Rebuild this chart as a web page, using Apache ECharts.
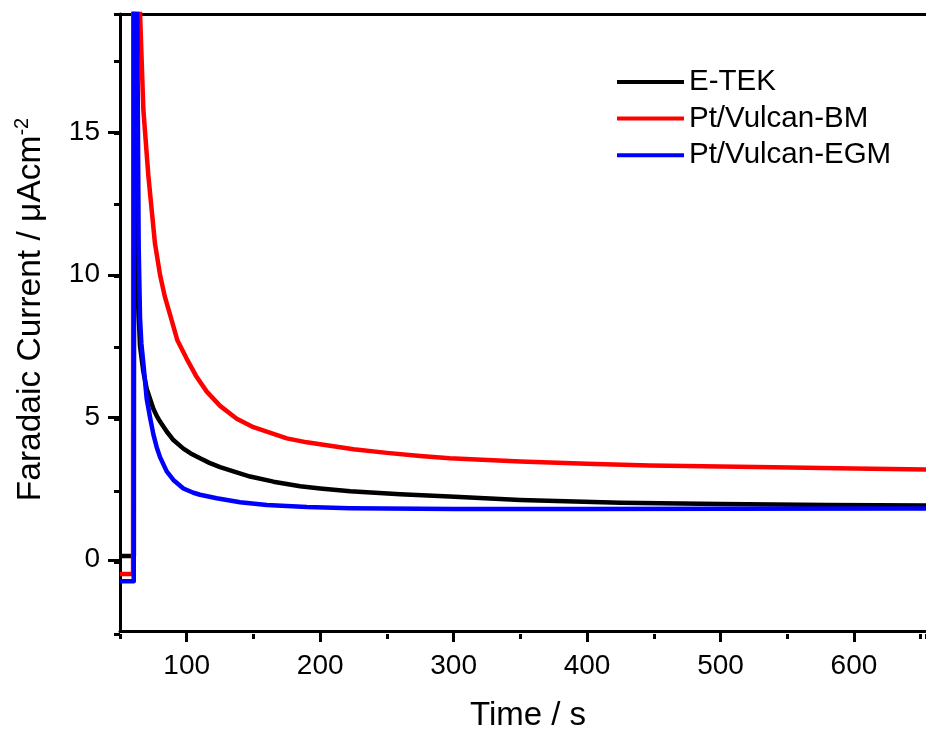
<!DOCTYPE html>
<html>
<head>
<meta charset="utf-8">
<script src="https://cdn.jsdelivr.net/npm/echarts@6/dist/echarts.min.js"></script>
<style>
html,body{margin:0;padding:0;background:#fff;}
#chart{width:926px;height:737px;}
</style>
</head>
<body>
<div id="chart"></div>
<script>
// ---- data ----
const seriesNames = ['E-TEK', 'Pt/Vulcan-BM', 'Pt/Vulcan-EGM'];

const etekTime = [50, 60.4, 60.6, 62.5, 64, 65, 67.5, 70, 72.5, 75, 77.5, 80, 85, 90, 97.5, 103, 110, 117, 125, 135, 147.5, 165, 185, 200, 222.5, 260, 297, 350, 425, 500, 580, 654];
const etekCurrent = [0.13, 0.13, 26, 11.3, 8.6, 7.5, 6.6, 6.0, 5.65, 5.3, 5.05, 4.85, 4.5, 4.2, 3.9, 3.73, 3.56, 3.4, 3.25, 3.1, 2.92, 2.74, 2.58, 2.5, 2.4, 2.3, 2.22, 2.1, 2.0, 1.96, 1.92, 1.9];

const bmTime = [50, 59.8, 60.0, 63, 65, 67.5, 71.2, 76.2, 80, 83.5, 87.5, 93, 100, 107, 115, 125, 137.5, 150, 165, 175, 190, 200, 225, 250, 275, 297, 350, 400, 447, 540, 600, 654];
const bmCurrent = [-0.5, -0.5, 26, 22, 19.2, 15.8, 13.5, 11.1, 10.0, 9.25, 8.6, 7.7, 7.05, 6.45, 5.9, 5.4, 4.95, 4.65, 4.42, 4.26, 4.12, 4.05, 3.88, 3.75, 3.64, 3.56, 3.45, 3.37, 3.31, 3.25, 3.2, 3.17];

const egmTime = [50, 60.3, 60.5, 62.8, 64, 65, 66, 67.5, 70, 72.5, 75, 77.5, 80, 85, 90, 97.5, 105, 110, 122.5, 140, 160, 190, 222.5, 300, 400, 500, 654];
const egmCurrent = [-0.75, -0.75, 26, 20, 11, 8.5, 7.6, 6.9, 5.65, 5.0, 4.4, 3.95, 3.6, 3.1, 2.8, 2.5, 2.35, 2.28, 2.16, 2.02, 1.92, 1.85, 1.81, 1.78, 1.78, 1.79, 1.8];

const xMajorTicks = [100, 200, 300, 400, 500, 600];
const yMajorTicks = [0, 5, 10, 15];

// ---- chart ----
const FONT = 'Liberation Sans, Arial, sans-serif';
function pairs(t, v) { return t.map((x, i) => [x, v[i]]); }

const chart = echarts.init(document.getElementById('chart'), null, { renderer: 'canvas' });

const xMin = 50, xMax = 654, yMin = -2.5, yMax = 19.15;
const LW = 4.5;
const gridBox = { left: 120, top: 14, right: 0, bottom: 103, containLabel: false };

const option = {
  backgroundColor: '#fff',
  animation: false,
  textStyle: { fontFamily: FONT },
  grid: [Object.assign({}, gridBox), Object.assign({}, gridBox)],
  legend: {
    orient: 'vertical',
    left: 612,
    top: 62,
    icon: 'rect',
    itemWidth: 67,
    itemHeight: 4,
    itemGap: 6.6,
    data: seriesNames,
    textStyle: { fontFamily: FONT, fontSize: 29.5, color: '#000', lineHeight: 30, padding: [0, 0, 0, 0] }
  },
  xAxis: [
    {
      gridIndex: 0, type: 'value', position: 'bottom', min: xMin, max: xMax,
      name: 'Time / s', nameLocation: 'middle', nameGap: 68,
      nameTextStyle: { fontFamily: FONT, fontSize: 33, color: '#000', padding: [0, 0, 0, 10] },
      axisLine: { show: true, onZero: false, lineStyle: { color: '#000', width: 3 } },
      axisTick: { show: true, inside: false, length: 11, customValues: xMajorTicks, lineStyle: { color: '#000', width: 3 } },
      axisLabel: {
        show: true, margin: 21, fontFamily: FONT, fontSize: 28, color: '#000',
        customValues: xMajorTicks
      },
      splitLine: { show: false }
    },
    {
      gridIndex: 0, type: 'value', position: 'top', min: xMin, max: xMax,
      axisLine: { show: true, onZero: false, lineStyle: { color: '#000', width: 3 } },
      axisTick: { show: false },
      axisLabel: { show: false },
      splitLine: { show: false }
    },
    {
      gridIndex: 1, type: 'value', position: 'bottom', min: xMin, max: xMax, interval: 50,
      axisLine: { show: false, onZero: false },
      axisTick: { show: true, inside: false, length: 5, lineStyle: { color: '#000', width: 3 } },
      axisLabel: { show: false },
      splitLine: { show: false }
    }
  ],
  yAxis: [
    {
      gridIndex: 0, type: 'value', position: 'left', min: yMin, max: yMax,
      name: 'Faradaic Current / μAcm{sup|-2}', nameLocation: 'middle', nameGap: 70,
      nameTextStyle: {
        fontFamily: FONT, fontSize: 33.5, color: '#000', lineHeight: 38, padding: [0, 0, 0, 26],
        rich: { sup: { fontFamily: FONT, fontSize: 20, lineHeight: 20, verticalAlign: 'top', color: '#000' } }
      },
      axisLine: { show: true, onZero: false, lineStyle: { color: '#000', width: 3 } },
      axisTick: { show: true, inside: false, length: 12, customValues: yMajorTicks, lineStyle: { color: '#000', width: 3 } },
      axisLabel: {
        show: true, margin: 20, fontFamily: FONT, fontSize: 28, color: '#000',
        customValues: yMajorTicks
      },
      splitLine: { show: false }
    },
    {
      gridIndex: 1, type: 'value', position: 'left', min: yMin, max: yMax, interval: 2.5,
      axisLine: { show: false, onZero: false },
      axisTick: { show: true, inside: false, length: 6, lineStyle: { color: '#000', width: 3 } },
      axisLabel: { show: false },
      splitLine: { show: false }
    }
  ],
  series: [
    {
      name: seriesNames[0], type: 'line', xAxisIndex: 0, yAxisIndex: 0,
      data: pairs(etekTime, etekCurrent), showSymbol: false, symbol: 'none', clip: true,
      lineStyle: { color: '#000000', width: LW, join: 'round' }, itemStyle: { color: '#000000' }
    },
    {
      name: seriesNames[1], type: 'line', xAxisIndex: 0, yAxisIndex: 0,
      data: pairs(bmTime, bmCurrent), showSymbol: false, symbol: 'none', clip: true,
      lineStyle: { color: '#ff0000', width: LW, join: 'round' }, itemStyle: { color: '#ff0000' }
    },
    {
      name: seriesNames[2], type: 'line', xAxisIndex: 0, yAxisIndex: 0,
      data: pairs(egmTime, egmCurrent), showSymbol: false, symbol: 'none', clip: true,
      lineStyle: { color: '#0000ff', width: LW, join: 'round' }, itemStyle: { color: '#0000ff' }
    }
  ]
};

chart.setOption(option);
</script>
</body>
</html>
